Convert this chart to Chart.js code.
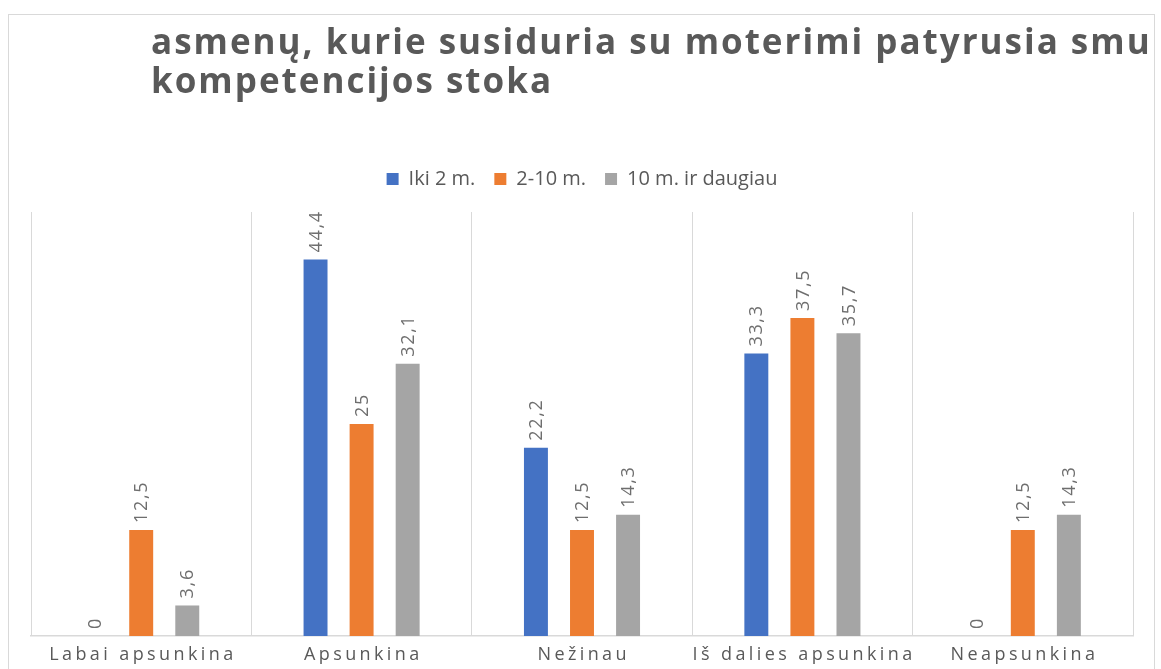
<!DOCTYPE html>
<html>
<head>
<meta charset="utf-8">
<title>Chart</title>
<script src="https://cdn.jsdelivr.net/npm/chart.js@4.4.1/dist/chart.umd.min.js"></script>
<style>
	body { margin: 0; background: #fff; }
	.frame {
		position: absolute;
		left: 8px; top: 14px;
		width: 1145px; height: 680px;
		border: 1px solid #d9d9d9;
	}
	#canvas1 { position: absolute; left: 0; top: 0; }
</style>
</head>
<body>
<div class="frame"></div>
<canvas id="canvas1" width="1161" height="669"></canvas>
<script>
var titleLines = ['asmenų, kurie susiduria su moterimi patyrusia smu', 'kompetencijos stoka'];
var categories = ['Labai apsunkina', 'Apsunkina', 'Nežinau', 'Iš dalies apsunkina', 'Neapsunkina'];
var seriesNames = ['Iki 2 m.', '2-10 m.', '10 m. ir daugiau'];
var iki2 = [0, 44.4, 22.2, 33.3, 0];
var nuo2iki10 = [12.5, 25, 12.5, 37.5, 12.5];
var virs10 = [3.6, 32.1, 14.3, 35.7, 14.3];
var colors = ['#4472c4', '#ed7d31', '#a5a5a5'];

var textColor = '#595959';

// title, drawn at the left like in the original and cut at the frame
var titlePlugin = {
	id: 'leftTitle',
	afterDraw: function(chart) {
		var ctx = chart.ctx;
		ctx.save();
		ctx.beginPath();
		ctx.rect(0, 0, 1153, 669);
		ctx.clip();
		ctx.font = 'bold 35px "Open Sans"';
		ctx.letterSpacing = '2px';
		ctx.fillStyle = textColor;
		ctx.textAlign = 'left';
		ctx.textBaseline = 'alphabetic';
		ctx.fillText(titleLines[0], 151, 54);
		ctx.fillText(titleLines[1], 151, 93);
		ctx.restore();
	}
};

// rotated value labels and spaced category labels
var labelsPlugin = {
	id: 'valueLabels',
	afterDatasetsDraw: function(chart) {
		var ctx = chart.ctx;
		ctx.save();
		ctx.font = '18px "Open Sans"';
		ctx.letterSpacing = '1.7px';
		ctx.fillStyle = '#6e6e6e';
		ctx.textAlign = 'left';
		ctx.textBaseline = 'middle';
		chart.data.datasets.forEach(function(ds, i) {
			var meta = chart.getDatasetMeta(i);
			meta.data.forEach(function(bar, j) {
				ctx.save();
				ctx.translate(bar.x, bar.y - 7);
				ctx.rotate(-Math.PI / 2);
				ctx.fillText(String(ds.data[j]).replace('.', ','), 0, 1);
				ctx.restore();
			});
		});

		var x = chart.scales.x;
		ctx.font = '18px "Open Sans"';
		ctx.letterSpacing = '3.4px';
		ctx.fillStyle = textColor;
		ctx.textAlign = 'center';
		ctx.textBaseline = 'alphabetic';
		chart.data.labels.forEach(function(lbl, i) {
			ctx.fillText(lbl, x.getPixelForTick(i) + 1.7, 660);
		});
		ctx.restore();
	}
};

// extra room under the legend
var legendGap = {
	id: 'legendGap',
	beforeInit: function(chart) {
		var fit = chart.legend.fit;
		chart.legend.fit = function() {
			fit.bind(chart.legend)();
			this.height += 13;
		};
	}
};

var ctx_1 = document.getElementById('canvas1').getContext('2d');

var myBarChart = new Chart(ctx_1, {
	type: 'bar',
	data: {
		labels: categories,
		datasets: [
			{ label: seriesNames[0], data: iki2, backgroundColor: colors[0] },
			{ label: seriesNames[1], data: nuo2iki10, backgroundColor: colors[1] },
			{ label: seriesNames[2], data: virs10, backgroundColor: colors[2] }
		]
	},
	options: {
		responsive: false,
		animation: false,
		categoryPercentage: 0.627,
		barPercentage: 0.52,
		layout: {
			padding: { left: 31, right: 28, top: 150, bottom: 33 }
		},
		plugins: {
			title: { display: false },
			tooltip: { enabled: false },
			legend: {
				position: 'top',
				labels: {
					boxWidth: 12,
					boxHeight: 12,
					padding: 19,
					color: textColor,
					font: { family: '"Open Sans"', size: 20 }
				}
			}
		},
		scales: {
			x: {
				offset: true,
				grid: {
					offset: true,
					color: '#d9d9d9',
					lineWidth: 1,
					drawTicks: false
				},
				border: { color: '#d9d9d9', width: 1.5 },
				ticks: { display: false }
			},
			y: {
				display: false,
				min: 0,
				max: 50
			}
		}
	},
	plugins: [titlePlugin, labelsPlugin, legendGap]
});
</script>
</body>
</html>
